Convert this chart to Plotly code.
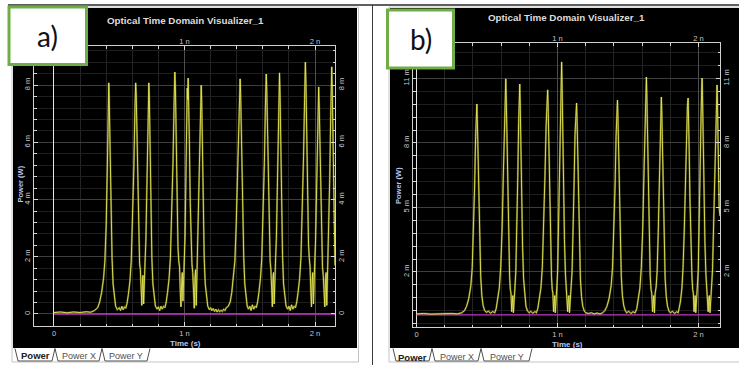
import plotly.graph_objects as go

W, H = 739, 365

# ---------------- data (time in ns, power in mW) ----------------
trace_a = [
    (0.00, 0.05), (0.05, 0.07), (0.10, 0.04), (0.15, 0.07), (0.20, 0.05), (0.25, 0.08), (0.28, 0.06), (0.31, 0.12), (0.335, 0.22),
    (0.35, 0.42), (0.365, 0.75), (0.38, 1.25), (0.39, 1.85), (0.40, 3.1), (0.408, 4.9), (0.414, 6.7), (0.418, 7.8), (0.42, 8.08),
    (0.423, 7.6), (0.426, 6.8), (0.43, 5.2), (0.437, 3.5), (0.445, 1.95), (0.453, 1.05), (0.462, 0.55), (0.472, 0.28), (0.485, 0.15),
    (0.50, 0.22), (0.51, 0.12), (0.52, 0.27), (0.53, 0.15), (0.54, 0.25), (0.55, 0.2),
    (0.56, 0.38), (0.57, 0.68), (0.582, 1.15), (0.592, 1.85), (0.602, 3.2), (0.612, 5.1), (0.62, 7.1), (0.626, 8.08), (0.63, 7.7),
    (0.635, 6.3), (0.642, 4.1), (0.65, 2.35), (0.656, 1.75), (0.662, 1.55), (0.668, 0.85), (0.673, 0.3), (0.678, 1.15), (0.682, 1.35),
    (0.687, 0.35), (0.692, 1.45), (0.698, 1.85), (0.704, 2.55), (0.712, 4.5), (0.719, 6.5), (0.724, 7.7), (0.727, 8.08), (0.731, 7.5),
    (0.736, 5.9), (0.743, 3.7), (0.75, 1.95), (0.758, 1.05), (0.767, 0.55), (0.777, 0.28), (0.79, 0.17),
    (0.80, 0.25), (0.81, 0.12), (0.82, 0.27), (0.83, 0.17), (0.84, 0.27), (0.85, 0.22),
    (0.86, 0.42), (0.87, 0.75), (0.882, 1.25), (0.892, 1.95), (0.902, 3.3), (0.912, 5.3), (0.92, 7.3), (0.926, 8.46), (0.93, 8.0),
    (0.935, 6.5), (0.942, 4.2), (0.95, 2.35), (0.956, 1.85), (0.962, 1.65), (0.968, 0.75), (0.973, 0.25), (0.978, 1.05), (0.983, 1.45),
    (0.988, 0.45), (0.993, 1.55), (0.998, 1.85), (1.004, 2.65), (1.011, 4.7), (1.017, 6.8), (1.021, 7.9), (1.024, 7.5), (1.028, 8.25),
    (1.032, 7.6), (1.037, 6.1), (1.044, 3.9), (1.051, 2.15), (1.057, 1.75), (1.063, 1.45), (1.069, 0.55), (1.075, 0.2), (1.08, 1.25),
    (1.085, 1.55), (1.09, 0.3), (1.095, 1.45), (1.10, 1.85), (1.106, 2.75), (1.113, 4.9), (1.12, 6.9), (1.125, 7.8), (1.128, 8.0),
    (1.132, 7.4), (1.137, 5.9), (1.144, 3.7), (1.151, 1.95), (1.159, 1.05), (1.168, 0.55), (1.178, 0.28), (1.19, 0.15),
    (1.20, 0.22), (1.21, 0.12), (1.22, 0.19), (1.23, 0.09), (1.24, 0.17), (1.25, 0.07), (1.26, 0.15), (1.27, 0.08), (1.28, 0.13),
    (1.29, 0.09), (1.30, 0.17), (1.31, 0.12), (1.32, 0.22), (1.335, 0.27),
    (1.35, 0.42), (1.362, 0.75), (1.375, 1.25), (1.386, 1.85), (1.396, 3.1), (1.405, 4.9), (1.413, 6.7), (1.42, 7.8), (1.426, 8.22),
    (1.43, 7.7), (1.434, 6.7), (1.44, 5.1), (1.447, 3.4), (1.454, 1.95), (1.462, 1.05), (1.471, 0.55), (1.48, 0.28), (1.49, 0.17),
    (1.50, 0.27), (1.51, 0.12), (1.52, 0.32), (1.53, 0.17), (1.54, 0.27), (1.55, 0.22),
    (1.56, 0.42), (1.57, 0.75), (1.582, 1.25), (1.592, 1.95), (1.602, 3.3), (1.612, 5.3), (1.62, 7.3), (1.626, 8.39), (1.63, 7.9),
    (1.635, 6.5), (1.642, 4.2), (1.65, 2.35), (1.656, 1.85), (1.662, 1.55), (1.668, 0.65), (1.673, 0.25), (1.678, 1.25), (1.682, 1.45),
    (1.687, 0.35), (1.692, 1.55), (1.698, 1.95), (1.704, 2.65), (1.712, 4.7), (1.719, 6.7), (1.724, 7.9), (1.728, 8.43), (1.732, 7.7),
    (1.737, 6.1), (1.744, 3.8), (1.751, 2.05), (1.759, 1.05), (1.768, 0.55), (1.778, 0.28), (1.79, 0.17),
    (1.80, 0.27), (1.81, 0.12), (1.82, 0.32), (1.83, 0.17), (1.84, 0.27), (1.85, 0.22),
    (1.86, 0.42), (1.87, 0.75), (1.882, 1.25), (1.892, 1.95), (1.902, 3.4), (1.912, 5.5), (1.92, 7.5), (1.926, 8.81), (1.93, 8.2),
    (1.935, 6.7), (1.942, 4.3), (1.95, 2.45), (1.956, 1.95), (1.962, 1.65), (1.968, 0.75), (1.973, 0.25), (1.978, 1.15), (1.983, 1.45),
    (1.988, 0.35), (1.993, 1.55), (1.998, 1.85), (2.004, 2.55), (2.012, 4.5), (2.019, 6.5), (2.024, 7.6), (2.028, 7.94), (2.032, 7.3),
    (2.037, 5.9), (2.044, 3.7), (2.051, 2.05), (2.057, 1.65), (2.063, 1.35), (2.069, 0.55), (2.075, 0.25), (2.08, 1.15), (2.085, 1.45),
    (2.09, 0.3), (2.095, 1.35), (2.10, 1.75), (2.106, 2.65), (2.113, 4.8), (2.12, 6.9), (2.125, 8.0), (2.128, 8.64), (2.132, 7.9),
    (2.137, 6.3), (2.144, 4.1), (2.15, 2.5), (2.153, 1.7),
]

trace_b = [
    (0.00, 0.05), (0.05, 0.07), (0.10, 0.04), (0.15, 0.06), (0.20, 0.05), (0.25, 0.07), (0.29, 0.05), (0.32, 0.10), (0.34, 0.20),
    (0.355, 0.4), (0.37, 0.75), (0.385, 1.35), (0.395, 2.2), (0.404, 3.8), (0.412, 6.0), (0.419, 8.3), (0.424, 9.4), (0.428, 9.81),
    (0.431, 9.1), (0.435, 7.7), (0.441, 5.4), (0.448, 3.3), (0.455, 1.8), (0.463, 0.9), (0.472, 0.45), (0.482, 0.22), (0.495, 0.12),
    (0.51, 0.18), (0.525, 0.08), (0.54, 0.16), (0.555, 0.10),
    (0.565, 0.3), (0.575, 0.65), (0.587, 1.25), (0.597, 2.2), (0.607, 4.0), (0.616, 6.6), (0.624, 9.1), (0.63, 10.5), (0.633, 10.98),
    (0.636, 10.2), (0.64, 8.5), (0.646, 5.9), (0.653, 3.4), (0.66, 1.8), (0.665, 1.2), (0.67, 1.0), (0.675, 0.15), (0.679, 0.8),
    (0.683, 0.9), (0.687, 0.1), (0.692, 1.0), (0.698, 1.3), (0.704, 2.0), (0.711, 3.8), (0.718, 6.4), (0.724, 8.9), (0.729, 10.3),
    (0.732, 10.74), (0.735, 9.9), (0.739, 8.1), (0.745, 5.5), (0.752, 3.2), (0.759, 1.7), (0.767, 0.85), (0.776, 0.4), (0.787, 0.18),
    (0.80, 0.10), (0.81, 0.17), (0.825, 0.08), (0.84, 0.16), (0.85, 0.10),
    (0.86, 0.3), (0.87, 0.65), (0.882, 1.25), (0.892, 2.2), (0.902, 4.0), (0.911, 6.5), (0.919, 8.8), (0.925, 10.0), (0.93, 10.47),
    (0.933, 9.8), (0.937, 8.1), (0.943, 5.6), (0.95, 3.3), (0.957, 1.8), (0.962, 1.2), (0.967, 1.0), (0.972, 0.15), (0.976, 0.8),
    (0.98, 0.9), (0.984, 0.1), (0.989, 1.0), (0.995, 1.3), (1.001, 2.1), (1.008, 4.2), (1.015, 7.0), (1.021, 9.7), (1.026, 11.2),
    (1.029, 11.77), (1.032, 10.8), (1.036, 8.8), (1.042, 6.0), (1.049, 3.5), (1.056, 1.9), (1.062, 1.3), (1.067, 1.0), (1.072, 0.15),
    (1.077, 0.8), (1.081, 0.9), (1.085, 0.1), (1.09, 1.0), (1.096, 1.3), (1.103, 2.0), (1.11, 3.7), (1.117, 6.0), (1.124, 8.4),
    (1.13, 9.5), (1.135, 9.86), (1.138, 9.2), (1.142, 7.7), (1.148, 5.3), (1.155, 3.1), (1.162, 1.7), (1.17, 0.85), (1.179, 0.4),
    (1.19, 0.18), (1.20, 0.10),
    (1.22, 0.07), (1.24, 0.10), (1.26, 0.05), (1.28, 0.09), (1.30, 0.05), (1.32, 0.10), (1.335, 0.20),
    (1.35, 0.4), (1.365, 0.75), (1.38, 1.35), (1.39, 2.2), (1.40, 3.9), (1.408, 6.0), (1.415, 8.3), (1.421, 9.5), (1.425, 10.0),
    (1.428, 9.3), (1.432, 7.8), (1.438, 5.4), (1.445, 3.3), (1.452, 1.8), (1.46, 0.9), (1.469, 0.45), (1.479, 0.22), (1.49, 0.10),
    (1.505, 0.17), (1.52, 0.07), (1.535, 0.15), (1.55, 0.10),
    (1.562, 0.3), (1.572, 0.65), (1.584, 1.25), (1.594, 2.2), (1.604, 4.0), (1.613, 6.6), (1.621, 9.1), (1.627, 10.6), (1.63, 11.07),
    (1.633, 10.3), (1.637, 8.5), (1.643, 5.9), (1.65, 3.4), (1.657, 1.8), (1.663, 1.2), (1.668, 1.0), (1.674, 0.15), (1.678, 0.8),
    (1.682, 0.9), (1.687, 0.1), (1.692, 1.0), (1.699, 1.3), (1.706, 2.0), (1.714, 3.8), (1.721, 6.3), (1.727, 8.5), (1.732, 9.7),
    (1.736, 10.14), (1.739, 9.5), (1.743, 7.9), (1.749, 5.4), (1.756, 3.2), (1.763, 1.7), (1.771, 0.85), (1.78, 0.4), (1.79, 0.18),
    (1.80, 0.10), (1.815, 0.17), (1.83, 0.07), (1.845, 0.15), (1.855, 0.10),
    (1.862, 0.3), (1.872, 0.65), (1.882, 1.25), (1.89, 2.2), (1.899, 4.0), (1.907, 6.4), (1.915, 8.6), (1.921, 9.7), (1.926, 10.09),
    (1.929, 9.4), (1.933, 7.8), (1.939, 5.4), (1.946, 3.2), (1.953, 1.8), (1.958, 1.2), (1.963, 1.0), (1.968, 0.15), (1.972, 0.8),
    (1.976, 0.9), (1.98, 0.1), (1.985, 1.0), (1.991, 1.3), (1.998, 2.1), (2.005, 4.1), (2.012, 6.9), (2.018, 9.3), (2.022, 10.5),
    (2.025, 11.02), (2.028, 10.2), (2.032, 8.4), (2.038, 5.8), (2.045, 3.4), (2.052, 1.9), (2.058, 1.3), (2.063, 1.0), (2.068, 0.15),
    (2.073, 0.8), (2.077, 0.9), (2.081, 0.1), (2.086, 1.0), (2.092, 1.3), (2.099, 2.1), (2.106, 4.0), (2.113, 6.7), (2.12, 9.1),
    (2.126, 10.3), (2.131, 10.7), (2.134, 9.9), (2.138, 8.3), (2.142, 6.3), (2.146, 5.0), (2.152, 4.6),
]

zero_a_time = [0.0, 2.153]
zero_a_power = [0.0, 0.0]
zero_b_time = [0.0, 2.152]
zero_b_power = [0.0, 0.0]

x_tickvals = [0, 1, 2]
x_ticktext = ["0", "1 n", "2 n"]
top_tickvals = [1, 2]
top_ticktext = ["1 n", "2 n"]
ya_tickvals = [0, 2, 4, 6, 8]
ya_ticktext = ["0", "2 m", "4 m", "6 m", "8 m"]
yb_tickvals = [2, 5, 8, 11]
yb_ticktext = ["2 m", "5 m", "8 m", "11 m"]

chart_title = "Optical Time Domain Visualizer_1"
x_title = "Time (s)"
y_title = "Power (W)"
tab_names = ["Power", "Power X", "Power Y"]
panel_labels = ["a)", "b)"]

# ---------------- helpers ----------------
def px(x):
    return x / W


def py(y):
    return 1 - y / H


ta, pa = zip(*trace_a)
tb, pb = zip(*trace_b)

YEL = "#e8e855"
GLOW = "rgba(160,160,45,0.5)"
MAG = "#c236c8"
FONT = "Liberation Sans, Arial, sans-serif"
tick_font = dict(family=FONT, size=7.5, color="#c8c8c8")

fig = go.Figure()


def add_panel(t, p, zt, zp, base_x, base_y, over_x, over_y):
    fig.add_trace(go.Scatter(x=zt, y=zp, xaxis=base_x, yaxis=base_y, mode="lines",
                             line=dict(color=MAG, width=1.3), hoverinfo="skip", showlegend=False))
    fig.add_trace(go.Scatter(x=t, y=p, xaxis=base_x, yaxis=base_y, mode="lines",
                             line=dict(color=GLOW, width=2.0), hoverinfo="skip", showlegend=False))
    fig.add_trace(go.Scatter(x=t, y=p, xaxis=over_x, yaxis=over_y, mode="lines",
                             line=dict(color=YEL, width=0.9), hoverinfo="skip", showlegend=False))


add_panel(ta, pa, zero_a_time, zero_a_power, "x", "y", "x3", "y3")
add_panel(tb, pb, zero_b_time, zero_b_power, "x2", "y2", "x4", "y4")


def base_xaxis(dom, rng, anchor):
    return dict(domain=dom, range=rng, anchor=anchor, tickmode="array", tickvals=x_tickvals, ticktext=x_ticktext,
                tickfont=tick_font, ticks="inside", ticklen=4, tickcolor="#d8d8d8",
                showline=True, linecolor="#d0d0d0", linewidth=1, mirror="allticks",
                showgrid=True, gridcolor="#4e4e4e", gridwidth=1,
                zeroline=True, zerolinecolor="#e6e6e6", zerolinewidth=1,
                minor=dict(dtick=0.2, tick0=0, ticks="inside", ticklen=2.5, tickcolor="#d8d8d8",
                           showgrid=True, gridcolor="#242424", gridwidth=1),
                fixedrange=True)


def base_yaxis(dom, rng, anchor, tv, tt, mdt, mt0):
    return dict(domain=dom, range=rng, anchor=anchor, tickmode="array", tickvals=tv, ticktext=tt,
                tickfont=tick_font, tickangle=-90, ticks="inside", ticklen=4, tickcolor="#d8d8d8",
                showline=True, linecolor="#d0d0d0", linewidth=1, mirror="allticks",
                showgrid=True, gridcolor="#3e3e3e", gridwidth=1, zeroline=False,
                minor=dict(dtick=mdt, tick0=mt0, ticks="inside", ticklen=2.5, tickcolor="#d8d8d8",
                           showgrid=True, gridcolor="#1e1e1e", gridwidth=1),
                fixedrange=True)


def top_xaxis(base, rng, anchor):
    return dict(overlaying=base, side="top", anchor=anchor, range=rng, tickmode="array",
                tickvals=top_tickvals, ticktext=top_ticktext, tickfont=tick_font, ticks="",
                showgrid=False, zeroline=False, showline=False, fixedrange=True)


def right_yaxis(base, rng, anchor, tv, tt):
    return dict(overlaying=base, side="right", anchor=anchor, range=rng, tickmode="array",
                tickvals=tv, ticktext=tt, tickfont=tick_font, tickangle=-90, ticks="",
                showgrid=False, zeroline=False, showline=False, fixedrange=True)


xa_rng = [-0.153, 2.153]
ya_rng = [-0.42, 9.37]
xb_rng = [-0.025, 2.152]
yb_rng = [-0.56, 12.65]

fig.update_layout(
    width=W, height=H, margin=dict(l=0, r=0, t=0, b=0),
    paper_bgcolor="white", plot_bgcolor="black", showlegend=False,
    xaxis=base_xaxis([px(34), px(335)], xa_rng, "y"),
    yaxis=base_yaxis([py(326), py(46)], ya_rng, "x", ya_tickvals, ya_ticktext, 0.4, 0),
    xaxis3=top_xaxis("x", xa_rng, "y3"),
    yaxis3=right_yaxis("y", ya_rng, "x3", ya_tickvals, ya_ticktext),
    xaxis2=base_xaxis([px(413), px(720)], xb_rng, "y2"),
    yaxis2=base_yaxis([py(327), py(43)], yb_rng, "x2", yb_tickvals, yb_ticktext, 0.6, 2),
    xaxis4=top_xaxis("x2", xb_rng, "y4"),
    yaxis4=right_yaxis("y2", yb_rng, "x4", yb_tickvals, yb_ticktext),
)

shapes = []


def rect(x0, y0, x1, y1, fill=None, line=None, lw=1, layer="below"):
    shapes.append(dict(type="rect", xref="paper", yref="paper", x0=px(x0), x1=px(x1), y0=py(y1), y1=py(y0),
                       fillcolor=fill if fill else "rgba(0,0,0,0)",
                       line=dict(color=line if line else "rgba(0,0,0,0)", width=lw if line else 0),
                       layer=layer))


def seg(x0, y0, x1, y1, color, lw):
    shapes.append(dict(type="line", xref="paper", yref="paper", x0=px(x0), x1=px(x1), y0=py(y0), y1=py(y1),
                       line=dict(color=color, width=lw), layer="above"))


def path(points, color, lw):
    d = "M " + " L ".join(f"{px(x):.5f},{py(y):.5f}" for x, y in points)
    shapes.append(dict(type="path", xref="paper", yref="paper", path=d, line=dict(color=color, width=lw),
                       fillcolor="rgba(0,0,0,0)", layer="above"))


# window frames and dark panels
rect(12, 7, 358.5, 362, fill="white", line="#c4c4c4")
rect(13, 8, 357, 348, fill="black")
rect(389, 7, 739.5, 362, fill="white", line="#c4c4c4")
rect(390, 8, 739, 348, fill="black")
seg(8, 5, 739, 5, "#2a2a2a", 1.5)
seg(372.5, 5, 372.5, 365, "#3a3a3a", 1)

# tabs
tabs_a = [(15, 55), (55, 102), (102, 150)]
tabs_b = [(393, 432), (432, 481), (481, 532)]
for tabs in (tabs_a, tabs_b):
    for xl, xr in tabs:
        path([(xl, 348.5), (xl + 3, 361), (xr - 3, 361), (xr, 348.5)], "#505050", 1)

# panel label boxes
rect(9, 7, 86.5, 64.5, fill="white", line="#70ad47", lw=3, layer="above")
rect(387.5, 10, 453.5, 68, fill="white", line="#70ad47", lw=3, layer="above")

annotations = []


def text(x, y, s, size, color, bold=False, angle=0, family=FONT):
    annotations.append(dict(xref="paper", yref="paper", x=px(x), y=py(y), text=f"<b>{s}</b>" if bold else s,
                            showarrow=False, xanchor="center", yanchor="middle", textangle=angle,
                            font=dict(family=family, size=size, color=color)))


text(185, 20.5, chart_title, 9.8, "#dcdcdc", bold=True)
text(566, 17.5, chart_title, 9.8, "#dcdcdc", bold=True)
text(185, 343, x_title, 8, "#b9c6f2", bold=True)
text(567, 344.5, x_title, 8, "#b9c6f2", bold=True)
text(20, 184.5, y_title, 7.5, "#b9c6f2", bold=True, angle=-90)
text(398.5, 185.5, y_title, 7.5, "#b9c6f2", bold=True, angle=-90)
for (xl, xr), name in zip(tabs_a, tab_names):
    text((xl + xr) / 2, 355.5, name, 9.5 if name == "Power" else 9, "#202020" if name == "Power" else "#505050",
         bold=(name == "Power"))
for (xl, xr), name in zip(tabs_b, tab_names):
    text((xl + xr) / 2, 357, name, 9.5 if name == "Power" else 9, "#202020" if name == "Power" else "#505050",
         bold=(name == "Power"))
text(47.5, 36, panel_labels[0], 28, "#111111", family="Lato, Carlito, Liberation Sans, sans-serif")
text(420.5, 39, panel_labels[1], 28, "#111111", family="Lato, Carlito, Liberation Sans, sans-serif")

fig.update_layout(shapes=shapes, annotations=annotations)
fig.write_html("out.html")
